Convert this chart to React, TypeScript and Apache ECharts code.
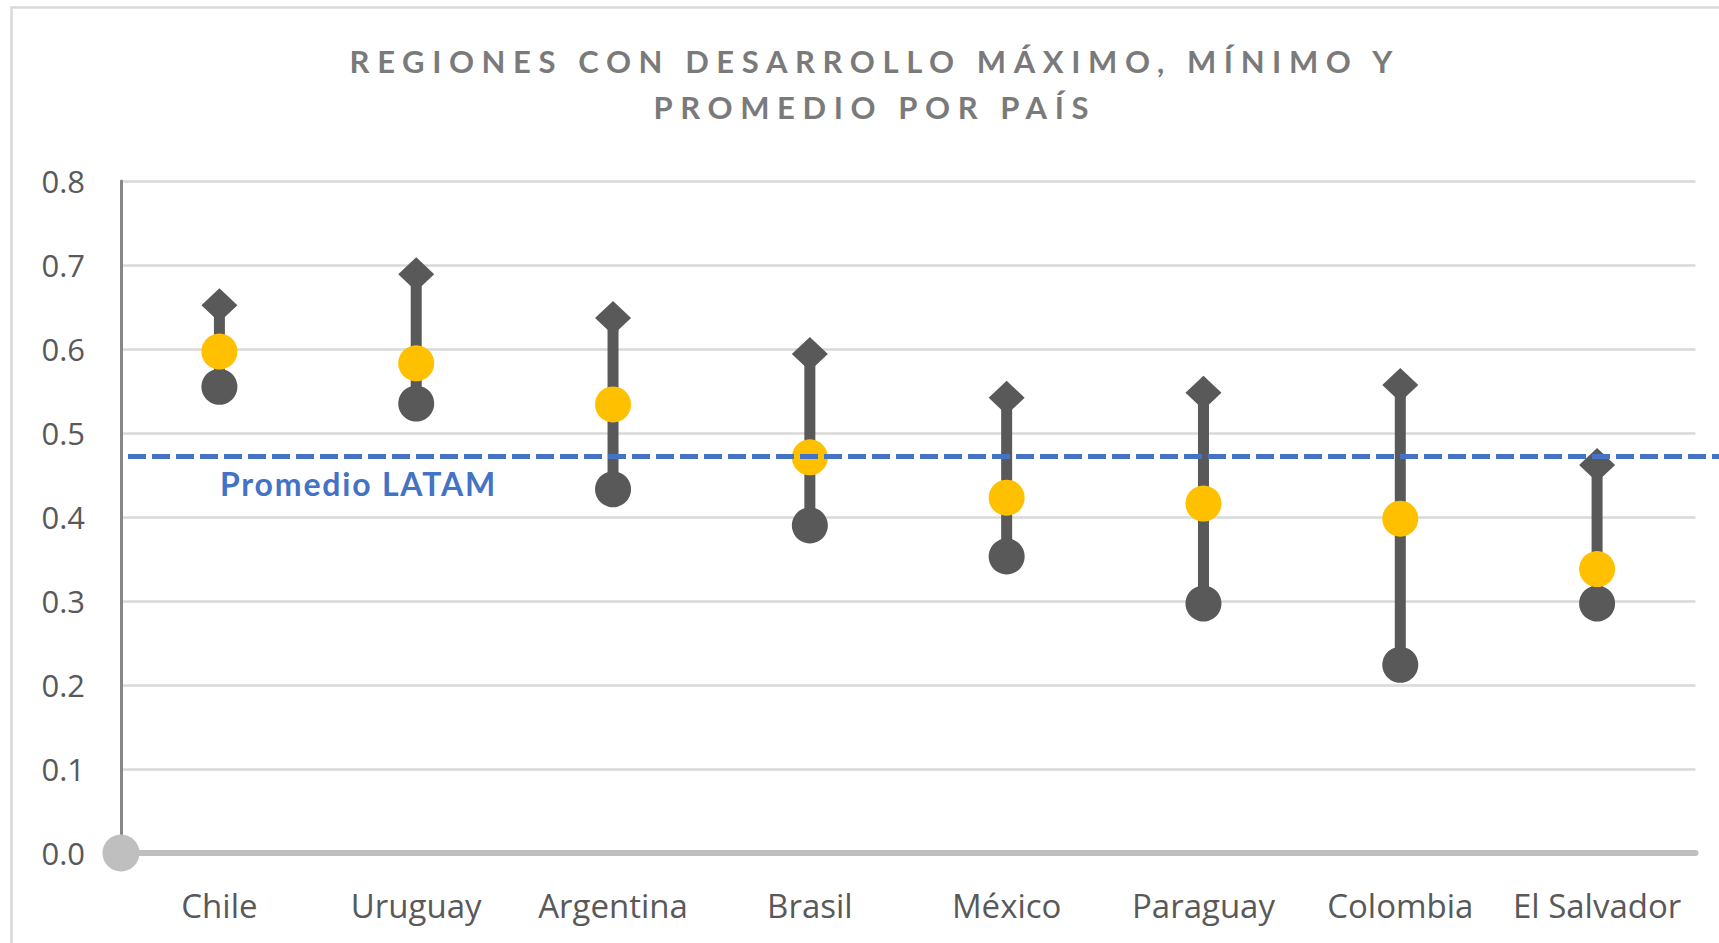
import React, { useEffect, useRef } from "react";
import * as echarts from "echarts";

const titleLines = ["REGIONES CON DESARROLLO MÁXIMO, MÍNIMO Y", "PROMEDIO POR PAÍS"];
const countries = ["Chile", "Uruguay", "Argentina", "Brasil", "México", "Paraguay", "Colombia", "El Salvador"];
const maxValues = [0.652, 0.689, 0.637, 0.594, 0.542, 0.548, 0.557, 0.462];
const avgValues = [0.597, 0.583, 0.534, 0.471, 0.423, 0.416, 0.398, 0.338];
const minValues = [0.555, 0.535, 0.433, 0.39, 0.353, 0.297, 0.224, 0.297];
const latamAverage = 0.472;
const latamLabel = "Promedio LATAM";
const yMin = 0;
const yMax = 0.8;
const yInterval = 0.1;

const FONT = "Lato, 'Open Sans', sans-serif";
const AXIS_FONT = "'Open Sans', 'Noto Sans', sans-serif";
const TITLE_SPACING = 7.6;
const LABEL_SPACING = 1.8;

export default function App() {
  const ref = useRef<HTMLDivElement>(null);

  useEffect(() => {
    if (!ref.current) return;
    const chart = echarts.init(ref.current, null, { renderer: "svg" });

    const stemData = countries.map((_, i) => [i, minValues[i], maxValues[i]]);

    const option: any = {
      animation: false,
      backgroundColor: "#ffffff",
      textStyle: { fontFamily: FONT },
      graphic: [
        {
          type: "polyline",
          silent: true,
          shape: { points: [[11.5, 943], [11.5, 7.5], [1719, 7.5]] },
          style: { stroke: "#d9d9d9", lineWidth: 2.5, fill: "none" },
        },
        {
          type: "text",
          x: 871,
          y: 61,
          silent: true,
          style: {
            text: titleLines[0],
            fill: "#7a7a7a",
            font: `bold 31px ${FONT}`,
            textAlign: "center",
            textVerticalAlign: "middle",
          },
        },
        {
          type: "text",
          x: 871,
          y: 107,
          silent: true,
          style: {
            text: titleLines[1],
            fill: "#7a7a7a",
            font: `bold 31px ${FONT}`,
            textAlign: "center",
            textVerticalAlign: "middle",
          },
        },
      ],
      grid: {
        left: 121,
        right: 23.5,
        top: 181,
        bottom: 90,
        containLabel: false,
        outerBoundsMode: "none",
      },
      xAxis: {
        type: "category",
        data: countries,
        boundaryGap: true,
        axisLine: {
          show: true,
          symbol: ["circle", "none"],
          symbolSize: [37, 37],
          lineStyle: { color: "#bfbfbf", width: 6 },
        },
        axisTick: { show: false },
        axisLabel: {
          interval: 0,
          color: "#595959",
          fontSize: 33,
          fontFamily: AXIS_FONT,
          margin: 36,
        },
        splitLine: { show: false },
        z: 3,
      },
      yAxis: {
        type: "value",
        min: yMin,
        max: yMax,
        interval: yInterval,
        axisLine: { show: true, lineStyle: { color: "#878787", width: 3 } },
        axisTick: { show: false },
        axisLabel: {
          color: "#595959",
          fontSize: 31,
          fontFamily: AXIS_FONT,
          margin: 36,
          formatter: (v: number) => v.toFixed(1),
        },
        splitLine: { show: true, lineStyle: { color: "#d9d9d9", width: 2.5 } },
      },
      series: [
        {
          type: "custom",
          name: "Rango",
          z: 2,
          silent: true,
          encode: { x: 0, y: [1, 2] },
          data: stemData,
          renderItem: (params: any, api: any) => {
            const idx = api.value(0);
            const lo = api.coord([idx, api.value(1)]);
            const hi = api.coord([idx, api.value(2)]);
            return {
              type: "line",
              shape: { x1: lo[0], y1: lo[1], x2: hi[0], y2: hi[1] },
              style: { stroke: "#595959", lineWidth: 11 },
            };
          },
        },
        {
          type: "scatter",
          name: "Máximo",
          z: 3,
          symbol: "diamond",
          symbolSize: [36, 34],
          itemStyle: { color: "#595959", opacity: 1 },
          data: maxValues,
        },
        {
          type: "scatter",
          name: "Mínimo",
          z: 3,
          symbol: "circle",
          symbolSize: 36,
          itemStyle: { color: "#595959", opacity: 1 },
          data: minValues,
        },
        {
          type: "scatter",
          name: "Promedio",
          z: 4,
          symbol: "circle",
          symbolSize: 36,
          itemStyle: { color: "#ffc000", opacity: 1 },
          data: avgValues,
        },
        {
          type: "line",
          name: latamLabel,
          z: 10,
          clip: false,
          data: [],
          markLine: {
            silent: true,
            symbol: "none",
            z: 10,
            lineStyle: { color: "#4472c4", width: 5, type: [18, 6] },
            label: {
              show: true,
              formatter: latamLabel,
              position: "insideStartBottom",
              distance: [92, 11],
              color: "#4472c4",
              fontWeight: "bold",
              fontSize: 32,
              fontFamily: FONT,
            },
            data: [[{ x: 128, yAxis: latamAverage }, { x: 1719, yAxis: latamAverage }]],
          },
        },
      ],
    };

    chart.setOption(option);

    const applySpacing = () => {
      const root = ref.current;
      if (!root) return;
      root.querySelectorAll("text").forEach((t) => {
        const s = t.textContent || "";
        if (titleLines.indexOf(s) >= 0) {
          (t as any).style.letterSpacing = `${TITLE_SPACING}px`;
          t.setAttribute("dx", String(TITLE_SPACING / 2));
        } else if (s === latamLabel) {
          (t as any).style.letterSpacing = `${LABEL_SPACING}px`;
        }
      });
    };
    applySpacing();
    chart.on("finished", applySpacing);

    return () => {
      chart.dispose();
    };
  }, []);

  return (
    <div
      ref={ref}
      style={{ position: "fixed", left: 0, top: 0, width: 1719, height: 943, background: "#fff" }}
    />
  );
}
